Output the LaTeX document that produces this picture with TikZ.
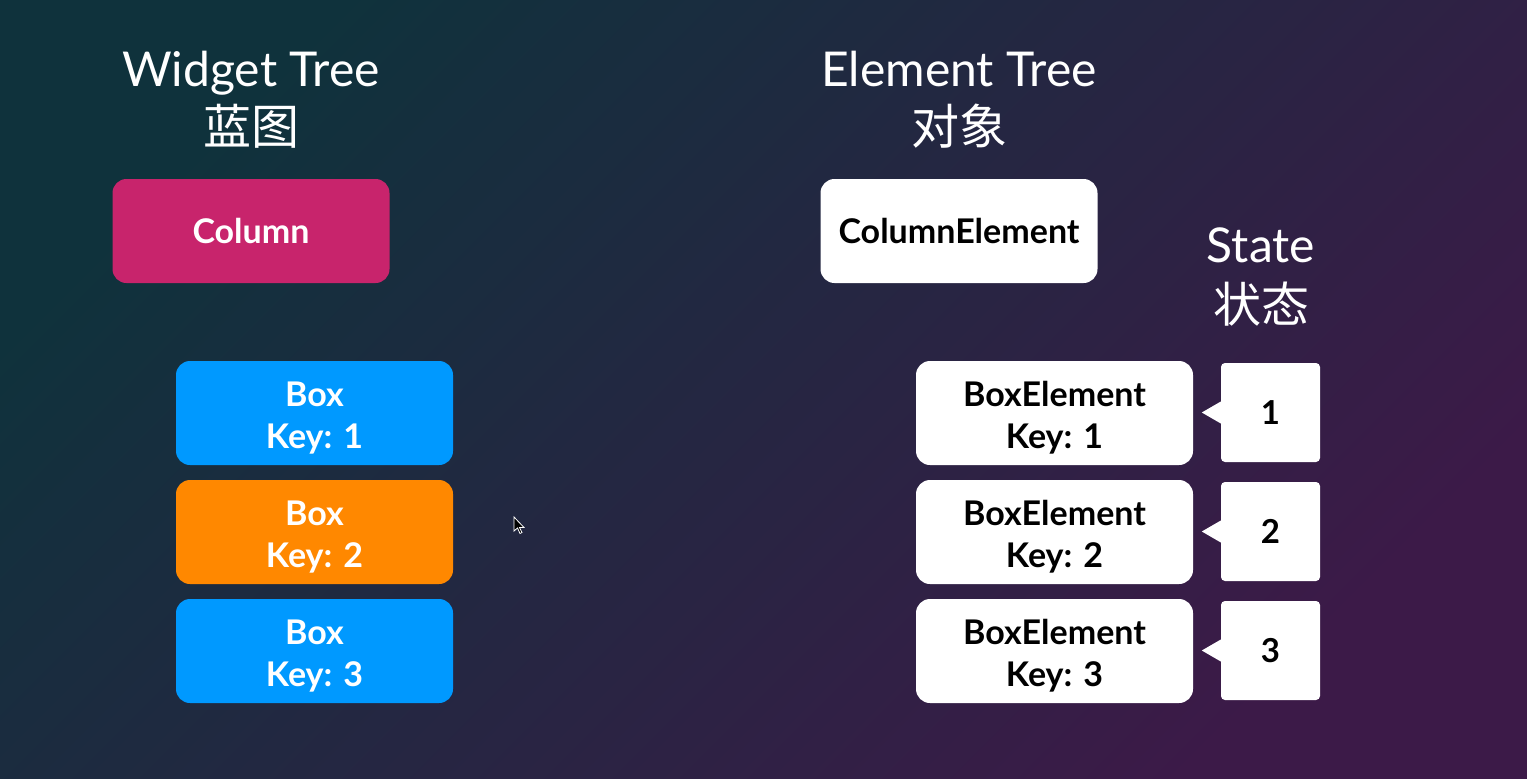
\documentclass[tikz,border=0pt]{standalone}
\usepackage{fontspec}
\setmainfont{Lato}
\newfontfamily\cjk{Noto Sans CJK SC}

\definecolor{bgteal}{RGB}{15,50,60}
\definecolor{bgmid}{RGB}{32,38,66}
\definecolor{bgplum}{RGB}{60,26,72}
\definecolor{colpink}{RGB}{200,36,108}
\definecolor{boxblue}{RGB}{0,153,255}
\definecolor{boxorange}{RGB}{255,136,0}

\begin{document}
\begin{tikzpicture}[x=1pt, y=-1pt]
            \tikzset{title/.style = {anchor=base, text=white, font=\fontsize{48}{50}\selectfont}}
            \tikzset{card/.style = {shape=rectangle, rounded corners=14pt, minimum width=277pt, minimum height=104pt, inner sep=0pt, align=center, font=\fontsize{34}{42}\selectfont\bfseries}}
            \tikzset{cardtext/.style = {align=center, inner sep=0pt, yshift=-5pt, font=\fontsize{34}{42}\selectfont\bfseries}}
            \tikzset{statebox/.style = {shape=rectangle, fill=white, rounded corners=4pt, minimum size=99pt, inner sep=0pt, font=\fontsize{33}{40}\selectfont\bfseries}}

            % background
            \shade[left color=bgteal, middle color=bgmid, right color=bgplum, shading angle=45] (0,0) rectangle (1527,779);
            \useasboundingbox (0,0) rectangle (1527,779);

            % headings
            \node[title] (wt) at (251, 86) {Widget Tree};
            \node[title] (wtcn) at (251, 144) {\cjk 蓝图};
            \node[title] (et) at (959, 86) {Element Tree};
            \node[title] (etcn) at (959, 144) {\cjk 对象};
            \node[title] (st) at (1261, 262) {State};
            \node[title] (stcn) at (1261, 322) {\cjk 状态};

            % widgets
            \node[card, fill=colpink, text=white] (col) at (251, 231) {Column};
            \node[card, fill=boxblue, label={[cardtext, text=white]center:Box\\Key: 1}] (box1) at (314.5, 413) {};
            \node[card, fill=boxorange, label={[cardtext, text=white]center:Box\\Key: 2}] (box2) at (314.5, 532) {};
            \node[card, fill=boxblue, label={[cardtext, text=white]center:Box\\Key: 3}] (box3) at (314.5, 651) {};

            % elements
            \node[card, fill=white, text=black] (colel) at (959, 231) {ColumnElement};
            \node[card, fill=white, label={[cardtext, text=black]center:BoxElement\\Key: 1}] (el1) at (1054.5, 413) {};
            \node[card, fill=white, label={[cardtext, text=black]center:BoxElement\\Key: 2}] (el2) at (1054.5, 532) {};
            \node[card, fill=white, label={[cardtext, text=black]center:BoxElement\\Key: 3}] (el3) at (1054.5, 651) {};

            % states, each with a pointer to its element
            \foreach \i/\y in {1/412.5, 2/531.5, 3/650.5} {
                \node[statebox] (s\i) at (1270.5, \y) {\i};
                \fill[white] ([yshift=-11pt]s\i.west) -- ([xshift=-19pt]s\i.west) -- ([yshift=11pt]s\i.west) -- cycle;
            }

            % mouse pointer
            \fill[black, draw=white, line width=0.8pt] (514,517) -- (514,531) -- (517.5,528) -- (520,533.5) -- (522,532.5) -- (519.5,527.5) -- (524,527.5) -- cycle;
        \end{tikzpicture}
\end{document}
